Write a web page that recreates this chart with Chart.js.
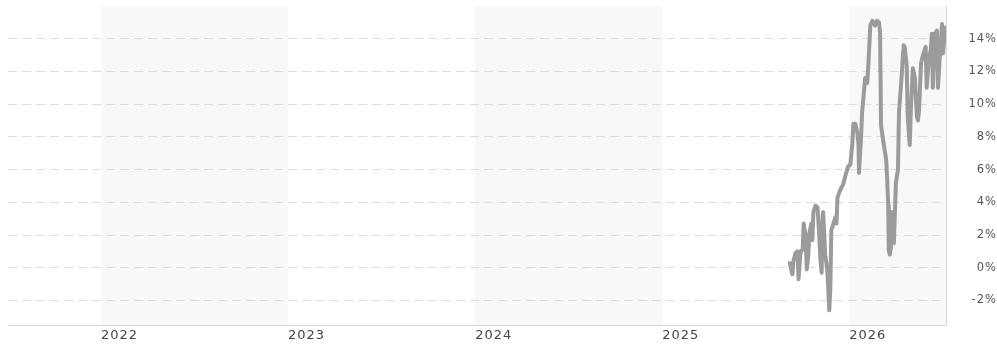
<!DOCTYPE html>
<html>
<head>
<meta charset="utf-8">
<script src="https://cdn.jsdelivr.net/npm/chart.js@4/dist/chart.umd.min.js"></script>
<style>
  html, body { margin: 0; padding: 0; background: #ffffff; }
  #wrap { width: 997px; height: 345px; position: relative; }
</style>
</head>
<body>
<div id="wrap"><canvas id="chart" width="997" height="345"></canvas></div>
<script>
// Performance since the first quote (%), one point every few days
const dates = [
  '2025-09-07','2025-09-08','2025-09-12','2025-09-14','2025-09-18','2025-09-22','2025-09-24','2025-09-28',
  '2025-10-02','2025-10-04','2025-10-08','2025-10-10','2025-10-13','2025-10-15','2025-10-19','2025-10-21',
  '2025-10-23','2025-10-27','2025-10-31','2025-11-02','2025-11-06','2025-11-08','2025-11-10','2025-11-11',
  '2025-11-15','2025-11-19','2025-11-23','2025-11-25','2025-11-27','2025-11-29','2025-12-03','2025-12-05',
  '2025-12-07','2025-12-09','2025-12-15','2025-12-20','2025-12-26','2025-12-30',
  '2026-01-03','2026-01-07','2026-01-09','2026-01-13','2026-01-17','2026-01-19','2026-01-20','2026-01-24',
  '2026-01-26','2026-01-28','2026-02-01','2026-02-05','2026-02-07','2026-02-11','2026-02-15','2026-02-20',
  '2026-02-24','2026-02-28','2026-03-02','2026-03-04','2026-03-08','2026-03-14','2026-03-16','2026-03-18',
  '2026-03-19','2026-03-21','2026-03-23','2026-03-25','2026-03-29','2026-04-02','2026-04-06','2026-04-08',
  '2026-04-12','2026-04-14','2026-04-16','2026-04-17','2026-04-19','2026-04-23','2026-04-25','2026-04-29',
  '2026-05-01','2026-05-05','2026-05-09','2026-05-13','2026-05-15','2026-05-17','2026-05-21','2026-05-24',
  '2026-05-28','2026-05-30','2026-06-01','2026-06-05','2026-06-09','2026-06-11','2026-06-13','2026-06-17',
  '2026-06-21','2026-06-23','2026-06-27','2026-07-01','2026-07-03','2026-07-07'
];
const returns = [
  0.4, 0.1, -0.4, 0.4, 0.9, 1.0, -0.7, 1.0,
  1.1, 2.7, 1.9, -0.1, 0.7, 2.1, 2.7, 1.7,
  3.4, 3.8, 3.7, 2.7, 0.4, -0.3, 3.1, 3.4,
  0.8, -0.1, -2.6, -1.3, 2.3, 2.5, 2.9, 3.1,
  2.7, 4.3, 4.8, 5.1, 5.8, 6.2,
  6.3, 7.6, 8.8, 8.8, 8.2, 7.5, 5.8, 8.0,
  9.5, 10.2, 11.6, 11.3, 12.3, 14.8, 15.1, 14.8,
  15.1, 15.0, 14.4, 8.7, 7.8, 6.6, 5.4, 3.8,
  1.1, 0.8, 1.2, 3.4, 1.5, 5.2, 6.0, 9.5,
  11.2, 12.1, 13.2, 13.6, 13.5, 12.4, 9.2, 7.5,
  9.6, 12.2, 11.6, 9.2, 9.0, 9.6, 12.5, 12.9,
  13.3, 13.5, 11.0, 12.7, 13.3, 14.3, 11.0, 14.3,
  14.5, 11.0, 13.1, 14.9, 13.1, 14.8
];
const yearTicks = [2022, 2023, 2024, 2025, 2026];
const shadedYears = [2022, 2024, 2026];
const pctTicks = [-2, 0, 2, 4, 6, 8, 10, 12, 14];

// date string -> fractional year
function toYear(s) {
  const [y, m, d] = s.split('-').map(Number);
  const start = Date.UTC(y, 0, 1), end = Date.UTC(y + 1, 0, 1);
  return y + (Date.UTC(y, m - 1, d) - start) / (end - start);
}

const points = dates.map((d, i) => ({ x: toYear(d), y: returns[i] }));

// alternate calendar years get a light background band
const yearBands = {
  id: 'yearBands',
  beforeDraw(chart) {
    const { ctx, chartArea: a, scales: { x } } = chart;
    ctx.letterSpacing = '1px';
    ctx.save();
    ctx.fillStyle = '#f8f8f8';
    shadedYears.forEach(yr => {
      const l = Math.max(a.left, x.getPixelForValue(yr));
      const r = Math.min(a.right, x.getPixelForValue(yr + 1));
      if (r > l) ctx.fillRect(l, a.top, r - l, a.bottom - a.top);
    });
    ctx.restore();
  }
};

new Chart(document.getElementById('chart'), {
  type: 'line',
  data: {
    datasets: [{
      data: points,
      borderColor: '#9b9b9b',
      borderWidth: 4,
      borderJoinStyle: 'round',
      pointRadius: 0,
      tension: 0,
      fill: false
    }]
  },
  options: {
    responsive: false,
    animation: false,
    layout: { padding: { left: 8, top: 6, right: 0, bottom: 0 } },
    plugins: { legend: { display: false }, tooltip: { enabled: false } },
    scales: {
      x: {
        type: 'linear',
        min: 2021.503,
        max: 2026.517,
        afterBuildTicks: axis => { axis.ticks = yearTicks.map(v => ({ value: v })); },
        afterFit: axis => { axis.height = 20; axis.paddingLeft = 0; axis.paddingRight = 0; },
        grid: { display: false, drawTicks: false },
        border: { display: true, color: '#d6d6d6', width: 1 },
        ticks: {
          align: 'start',
          padding: 3,
          maxRotation: 0,
          color: '#444',
          font: { family: 'DejaVu Sans', size: 13 },
          callback: v => String(v)
        }
      },
      y: {
        position: 'right',
        min: -3.5,
        max: 16,
        afterBuildTicks: axis => { axis.ticks = pctTicks.map(v => ({ value: v })); },
        afterFit: axis => { axis.width = 51; axis.paddingTop = 0; axis.paddingBottom = 0; },
        grid: { color: '#dcdcdc', lineWidth: 1, drawTicks: false },
        border: { display: true, color: '#d6d6d6', width: 1, dash: [9, 5] },
        ticks: {
          crossAlign: 'far',
          padding: 6,
          color: '#555',
          font: { family: 'DejaVu Sans', size: 11.5 },
          callback: v => v + '%'
        }
      }
    }
  },
  plugins: [yearBands]
});
</script>
</body>
</html>
